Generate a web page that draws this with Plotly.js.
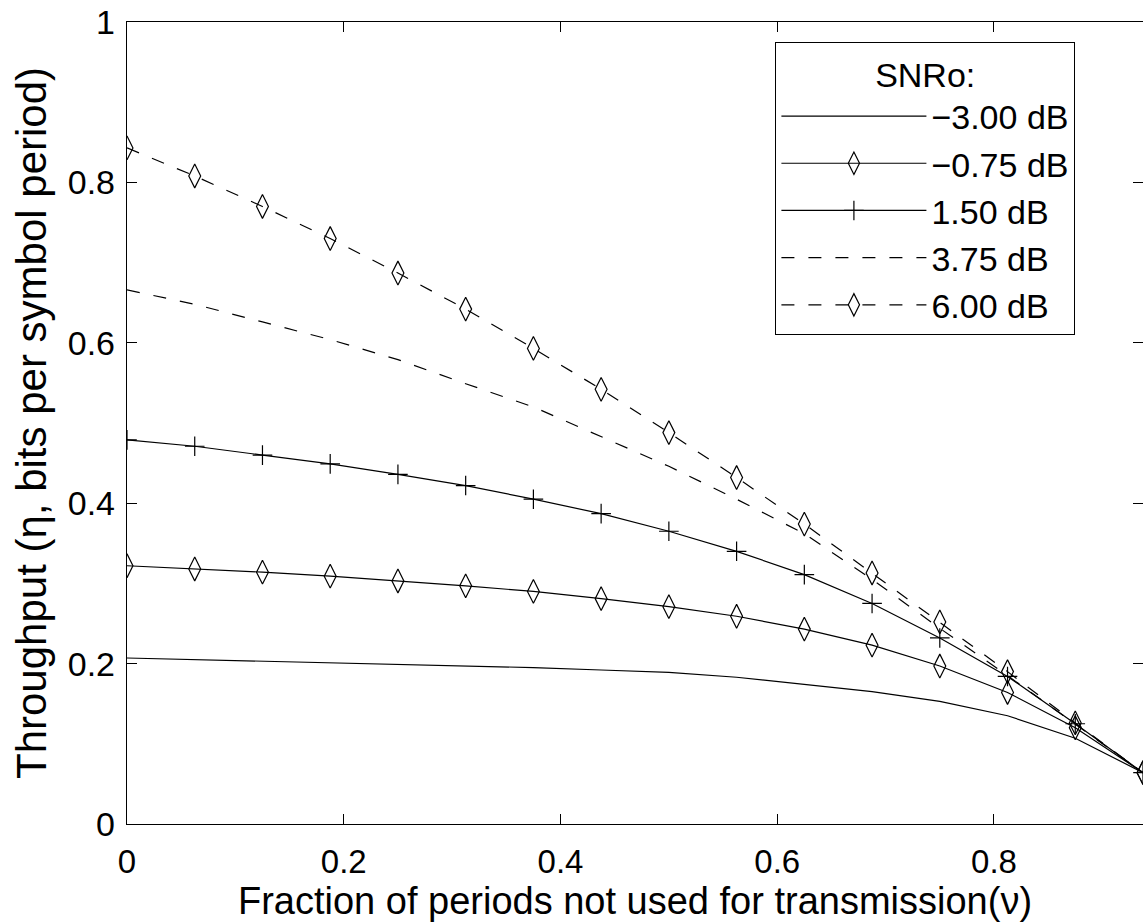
<!DOCTYPE html>
<html>
<head>
<meta charset="utf-8">
<script src="https://cdn.plot.ly/plotly-3.0.1.min.js"></script>
<style>html,body{margin:0;padding:0;background:#fff;}#chart{width:1143px;height:922px;}</style>
</head>
<body>
<div id="chart"></div>
<script>
// fraction of periods not used for transmission (k/16)
const nu = [0, 0.0625, 0.125, 0.1875, 0.25, 0.3125, 0.375, 0.4375, 0.5, 0.5625, 0.625, 0.6875, 0.75, 0.8125, 0.875, 0.9375];

const snrLabels = ["\u22123.00 dB", "\u22120.75 dB", "1.50 dB", "3.75 dB", "6.00 dB"];

const thr_m300 = [0.207, 0.205, 0.203, 0.201, 0.199, 0.197, 0.195, 0.192, 0.189, 0.183, 0.174, 0.165, 0.153, 0.135, 0.107, 0.064];
const thr_m075 = [0.322, 0.318, 0.314, 0.309, 0.303, 0.297, 0.290, 0.281, 0.271, 0.259, 0.243, 0.223, 0.197, 0.164, 0.120, 0.064];
const thr_p150 = [0.479, 0.471, 0.460, 0.449, 0.436, 0.422, 0.405, 0.387, 0.365, 0.340, 0.311, 0.275, 0.232, 0.184, 0.125, 0.064];
const thr_p375 = [0.666, 0.648, 0.626, 0.604, 0.579, 0.549, 0.520, 0.483, 0.446, 0.405, 0.362, 0.305, 0.244, 0.185, 0.124, 0.064];
const thr_p600 = [0.843, 0.808, 0.770, 0.730, 0.687, 0.642, 0.593, 0.542, 0.488, 0.432, 0.374, 0.313, 0.252, 0.190, 0.126, 0.064];

const xTickVals = [0, 0.2, 0.4, 0.6, 0.8];
const xTickText = ["0", "0.2", "0.4", "0.6", "0.8"];
const yTickVals = [0, 0.2, 0.4, 0.6, 0.8, 1];
const yTickText = ["0", "0.2", "0.4", "0.6", "0.8", "1"];

const FONT = "Liberation Sans, Arial, Helvetica, sans-serif";

const traces = [
  {x: nu, y: thr_m300, name: snrLabels[0], mode: "lines",
   line: {color: "#000", width: 1.2}},
  {x: nu, y: thr_m075, name: snrLabels[1], mode: "lines+markers",
   line: {color: "#000", width: 1.2},
   marker: {symbol: "diamond-tall-open", size: 17, color: "#000", line: {width: 1.2, color: "#000"}}},
  {x: nu, y: thr_p150, name: snrLabels[2], mode: "lines+markers",
   line: {color: "#000", width: 1.2},
   marker: {symbol: "cross-thin-open", size: 14, color: "#000", line: {width: 1.2, color: "#000"}}},
  {x: nu, y: thr_p375, name: snrLabels[3], mode: "lines",
   line: {color: "#000", width: 1.2, dash: "13px,14px"}},
  {x: nu, y: thr_p600, name: snrLabels[4], mode: "lines+markers",
   line: {color: "#000", width: 1.2, dash: "13px,14px"},
   marker: {symbol: "diamond-tall-open", size: 17, color: "#000", line: {width: 1.2, color: "#000"}}}
];

const layout = {
  width: 1143, height: 922,
  margin: {l: 127, r: 0, t: 22, b: 98},
  paper_bgcolor: "#fff", plot_bgcolor: "#fff",
  font: {family: FONT, size: 34, color: "#000"},
  showlegend: true,
  xaxis: {
    range: [0, 0.9375], tickvals: xTickVals, ticktext: xTickText,
    ticks: "inside", ticklen: 10, tickwidth: 1, tickcolor: "#000",
    showline: true, linecolor: "#000", linewidth: 1.2, mirror: "ticks",
    showgrid: false, zeroline: false, ticklabelstandoff: 8,
    tickfont: {family: FONT, size: 33},
    title: {text: "Fraction of periods not used for transmission(\u03bd)", font: {family: FONT, size: 38}, standoff: 0}
  },
  yaxis: {
    range: [0, 1], tickvals: yTickVals, ticktext: yTickText,
    ticks: "inside", ticklen: 10, tickwidth: 1, tickcolor: "#000",
    showline: true, linecolor: "#000", linewidth: 1.2, mirror: "ticks",
    showgrid: false, zeroline: false, ticklabelstandoff: 4,
    tickfont: {family: FONT, size: 34},
    title: {text: "Throughput (\u03b7, bits per symbol period)", font: {family: FONT, size: 42}, standoff: 8}
  },
  legend: {
    x: 0.638, y: 0.975, xanchor: "left", yanchor: "top",
    bgcolor: "#fff", bordercolor: "#000", borderwidth: 1.2,
    font: {family: FONT, size: 34, color: "#000"},
    title: {text: "SNRo:", side: "top center", font: {family: FONT, size: 34}},
    itemwidth: 145, tracegroupgap: 0
  }
};

Plotly.newPlot("chart", traces, layout, {displayModeBar: false, staticPlot: true});
</script>
</body>
</html>
